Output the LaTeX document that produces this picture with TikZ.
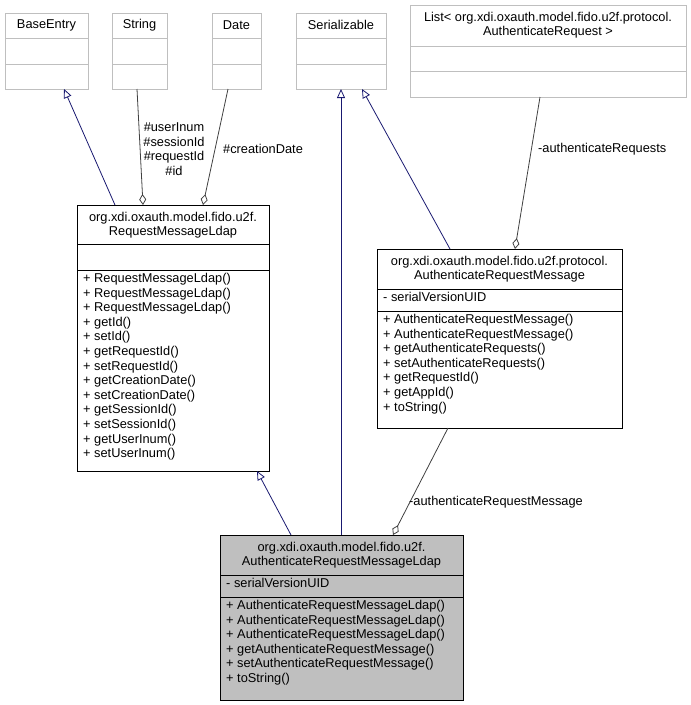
\documentclass[tikz,border=0pt]{standalone}
\usepackage{fontspec}
\setmainfont{Liberation Sans}
\usetikzlibrary{arrows.meta}
\definecolor{inhblue}{HTML}{191970}
\definecolor{aggray}{HTML}{404040}
\definecolor{extgray}{HTML}{BFBFBF}
\tikzset{
  cls/.style={draw=black, line width=0.8pt, fill=white, anchor=north west, inner sep=0pt},
  ext/.style={cls, draw=extgray},
  ttl/.style={align=center, font=\fontsize{12.8}{14.6}\selectfont, inner sep=0pt},
  mbr/.style={align=left, anchor=north west, font=\fontsize{12.8}{14.6}\selectfont, inner sep=0pt},
  lbl/.style={font=\fontsize{12.8}{14.6}\selectfont, inner sep=0pt},
  inherit/.style={draw=inhblue, line width=0.8pt, -{Triangle[open,length=9pt,width=8pt]}},
  aggr/.style={draw=aggray, line width=0.8pt, {Diamond[open,length=11pt,width=7pt]}-}
}
\begin{document}
\begin{tikzpicture}[x=1pt,y=-1pt]
  \useasboundingbox (0,0) rectangle (691,705);
  % top row
  \node[ext, minimum width=83, minimum height=76] (base) at (5,13) {};
  \node[ttl] at (46.5,25) {BaseEntry};
  \draw[extgray] (5,38) -- (88,38) (5,64) -- (88,64);
  \node[ext, minimum width=55, minimum height=76] (str) at (112,13) {};
  \node[ttl] at (139.5,25) {String};
  \draw[extgray] (112,38) -- (167,38) (112,64) -- (167,64);
  \node[ext, minimum width=49, minimum height=76] (date) at (212,13) {};
  \node[ttl] at (236.5,25) {Date};
  \draw[extgray] (212,38) -- (261,38) (212,64) -- (261,64);
  \node[ext, minimum width=90, minimum height=76] (ser) at (296,13) {};
  \node[ttl] at (341,25) {Serializable};
  \draw[extgray] (296,38) -- (386,38) (296,64) -- (386,64);
  \node[ext, minimum width=276, minimum height=92] (list) at (410,5) {};
  \node[ttl] at (548,25) {List< org.xdi.oxauth.model.fido.u2f.protocol.\\AuthenticateRequest >};
  \draw[extgray] (410,46) -- (686,46) (410,71) -- (686,71);
  % RequestMessageLdap
  \node[cls, minimum width=192, minimum height=266] (rml) at (77,205) {};
  \node[ttl] at (173,225) {org.xdi.oxauth.model.fido.u2f.\\RequestMessageLdap};
  \draw (77,244) -- (269,244) (77,270) -- (269,270);
  \node[mbr] at (83,273) {+ RequestMessageLdap()\\+ RequestMessageLdap()\\+ RequestMessageLdap()\\+ getId()\\+ setId()\\+ getRequestId()\\+ setRequestId()\\+ getCreationDate()\\+ setCreationDate()\\+ getSessionId()\\+ setSessionId()\\+ getUserInum()\\+ setUserInum()};
  % AuthenticateRequestMessage
  \node[cls, minimum width=245, minimum height=179] (arm) at (377,249) {};
  \node[ttl] at (499.5,269) {org.xdi.oxauth.model.fido.u2f.protocol.\\AuthenticateRequestMessage};
  \draw (377,289) -- (622,289) (377,311) -- (622,311);
  \node[mbr] at (383,292) {- serialVersionUID};
  \node[mbr] at (383,314) {+ AuthenticateRequestMessage()\\+ AuthenticateRequestMessage()\\+ getAuthenticateRequests()\\+ setAuthenticateRequests()\\+ getRequestId()\\+ getAppId()\\+ toString()};
  % AuthenticateRequestMessageLdap
  \node[cls, fill=black!25, minimum width=243, minimum height=165] (arml) at (220,535) {};
  \node[ttl] at (341.5,555) {org.xdi.oxauth.model.fido.u2f.\\AuthenticateRequestMessageLdap};
  \draw (220,575) -- (463,575) (220,597) -- (463,597);
  \node[mbr] at (226,578) {- serialVersionUID};
  \node[mbr] at (226,600) {+ AuthenticateRequestMessageLdap()\\+ AuthenticateRequestMessageLdap()\\+ AuthenticateRequestMessageLdap()\\+ getAuthenticateRequestMessage()\\+ setAuthenticateRequestMessage()\\+ toString()};
  % connectors
  \coordinate (rmlA) at (115,205);
  \coordinate (baseB) at (64,89);
  \draw[inherit] (rmlA) -- (baseB);
  \coordinate (rmlB) at (143,205);
  \coordinate (strB) at (137,89);
  \draw[aggr] (rmlB) -- (strB);
  \node[lbl, align=center] (strlbl) at (174,149) {\#userInum\\\#sessionId\\\#requestId\\\#id};
  \coordinate (rmlC) at (203,205);
  \coordinate (dateB) at (228,89);
  \draw[aggr] (rmlC) -- (dateB);
  \node[lbl, anchor=west] (datelbl) at (223,149) {\#creationDate};
  \coordinate (armlA) at (341,535);
  \coordinate (serB) at (341,89);
  \draw[inherit] (armlA) -- (serB);
  \coordinate (armA) at (450,249);
  \coordinate (serC) at (362,89);
  \draw[inherit] (armA) -- (serC);
  \coordinate (armB) at (515,249);
  \coordinate (listB) at (540,97);
  \draw[aggr] (armB) -- (listB);
  \node[lbl, anchor=west] (listlbl) at (538,149) {-authenticateRequests};
  \coordinate (armlB) at (291,535);
  \coordinate (rmlD) at (257,471);
  \draw[inherit] (armlB) -- (rmlD);
  \coordinate (armlC) at (393,535);
  \coordinate (armC) at (448,428);
  \draw[aggr] (armlC) -- (armC);
  \node[lbl, anchor=west] (armlbl) at (409,502) {-authenticateRequestMessage};
\end{tikzpicture}
\end{document}
